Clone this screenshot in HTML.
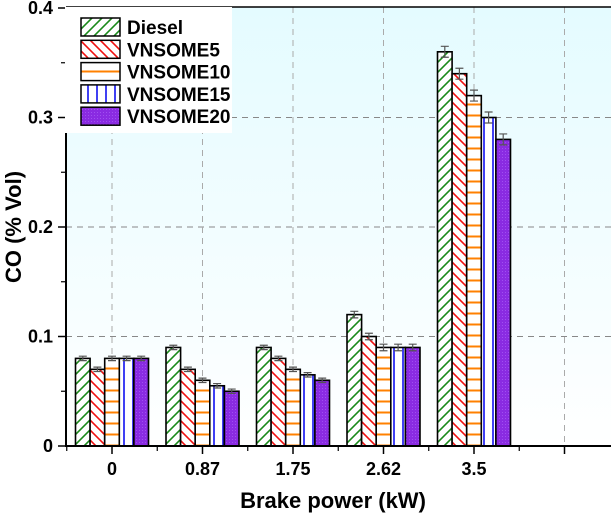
<!DOCTYPE html>
<html><head><meta charset="utf-8"><style>
html,body{margin:0;padding:0;background:#fff;}
svg{display:block;font-family:"Liberation Sans",Arial,sans-serif;}
</style></head><body>
<svg id="chart" width="611" height="516" viewBox="0 0 611 516">
<defs>
<linearGradient id="bg" x1="0" y1="0" x2="0" y2="1">
<stop offset="0" stop-color="#e4fbff"/><stop offset="1" stop-color="#ffffff"/>
</linearGradient>
<pattern id="p0" patternUnits="userSpaceOnUse" width="10" height="10">
<rect width="10" height="10" fill="#fff"/><path d="M-2,12 L12,-2 M-2,2 L2,-2 M8,12 L12,8" stroke="#1a8a1a" stroke-width="1.6"/></pattern>
<pattern id="p1" patternUnits="userSpaceOnUse" width="10" height="10">
<rect width="10" height="10" fill="#fff"/><path d="M-2,-2 L12,12 M-2,8 L2,12 M8,-2 L12,2" stroke="#f01010" stroke-width="1.6"/></pattern>
<pattern id="p2" patternUnits="userSpaceOnUse" width="10" height="11">
<rect width="10" height="11" fill="#fff"/><path d="M0,5.5 L10,5.5" stroke="#ff8000" stroke-width="2"/></pattern>
<pattern id="p3" patternUnits="userSpaceOnUse" width="9" height="10" x="2">
<rect width="9" height="10" fill="#fff"/><path d="M5,0 L5,10" stroke="#1010f0" stroke-width="1.6"/></pattern>
<pattern id="p4" patternUnits="userSpaceOnUse" width="3" height="3">
<rect width="3" height="3" fill="#8a2be2"/><rect x="1" y="1" width="1" height="1" fill="#a050f0"/></pattern>
</defs>
<rect x="66" y="7" width="545" height="439" fill="url(#bg)"/>
<g id="grid"></g>
<g id="bars"></g>
<line x1="66" y1="7" x2="611" y2="7" stroke="#000" stroke-width="1.5"/>
<line x1="66" y1="7" x2="66" y2="447" stroke="#000" stroke-width="2"/>
<line x1="65" y1="446" x2="611" y2="446" stroke="#000" stroke-width="2"/>
<g id="axes"></g>
<text x="333" y="508" font-size="22" font-weight="bold" text-anchor="middle">Brake power (kW)</text>
<text transform="translate(21,227) rotate(-90)" font-size="22" font-weight="bold" text-anchor="middle">CO (% Vol)</text>
<g>
<rect x="65" y="7" width="167" height="126" fill="#fff"/>
<g id="legend"></g>
</g>
</svg>
<script>
const categories = ["0","0.87","1.75","2.62","3.5"];
const seriesNames = ["Diesel","VNSOME5","VNSOME10","VNSOME15","VNSOME20"];
const diesel = [0.08,0.09,0.09,0.12,0.36];
const vnsome5 = [0.07,0.07,0.08,0.10,0.34];
const vnsome10 = [0.08,0.06,0.07,0.09,0.32];
const vnsome15 = [0.08,0.055,0.065,0.09,0.30];
const vnsome20 = [0.08,0.05,0.06,0.09,0.28];
const errors = [0.002,0.002,0.002,0.003,0.005];
const yTicks = [0,0.1,0.2,0.3,0.4];
const yTickLabels = ["0","0.1","0.2","0.3","0.4"];

const NS="http://www.w3.org/2000/svg";
const series=[diesel,vnsome5,vnsome10,vnsome15,vnsome20];
const y0=446, pxPer=1095;
function yS(v){return y0-v*pxPer;}
function xS(i){return 112+i*90.5;}
const bw=14.6;
function mk(tag,attrs,parent){const e=document.createElementNS(NS,tag);for(const k in attrs)e.setAttribute(k,attrs[k]);parent.appendChild(e);return e;}
const grid=document.getElementById('grid'),bars=document.getElementById('bars'),axes=document.getElementById('axes'),legend=document.getElementById('legend');
yTicks.forEach((t,i)=>{
  if(t>0&&t<0.4){const l=mk('line',{x1:66,x2:611,y1:yS(t),y2:yS(t),stroke:'#888','stroke-dasharray':'6,5','stroke-width':1},grid);
  
  }
  const tk=mk('line',{x1:58,x2:66,y1:yS(t),y2:yS(t),stroke:'#000','stroke-width':1.5},axes);
  
  
  const tx=mk('text',{x:53,y:yS(t)+6,'font-size':18,'font-weight':'bold','text-anchor':'end'},axes);
  tx.textContent=yTickLabels[i];
  
  
  if(i<yTicks.length-1){const m=mk('line',{x1:61,x2:66,y1:yS(t+0.05),y2:yS(t+0.05),stroke:'#000','stroke-width':1.2},axes);
  
  }
});
for(let i=0;i<=categories.length;i++){
  const g=mk('line',{x1:xS(i),x2:xS(i),y1:7,y2:446,stroke:'#aaa','stroke-dasharray':'6,5','stroke-width':1},grid);
  
  
  const tk=mk('line',{x1:xS(i),x2:xS(i),y1:446,y2:454,stroke:'#000','stroke-width':1.5},axes);
  
  
  const m=mk('line',{x1:xS(i)-45.25,x2:xS(i)-45.25,y1:446,y2:451,stroke:'#000','stroke-width':1.2},axes);
  
  
  if(i<categories.length){const tx=mk('text',{x:xS(i),y:475,'font-size':18,'font-weight':'bold','text-anchor':'middle'},axes);
  tx.textContent=categories[i];
  
  }
}
categories.forEach((c,i)=>{
  series.forEach((s,j)=>{
    const x=xS(i)-2.5*bw+j*bw, y=yS(s[i]);
    const r=mk('rect',{x:x,y:y,width:bw,height:y0-y,fill:'url(#p'+j+')',stroke:'#000','stroke-width':1.6},bars);
    
    
    const e=errors[i], cx=x+bw/2;
    const eb=mk('path',{d:`M${cx},${yS(s[i]+e)}V${yS(s[i]-e)}M${cx-4},${yS(s[i]+e)}H${cx+4}M${cx-4},${yS(s[i]-e)}H${cx+4}`,stroke:'#555','stroke-width':1.2,fill:'none'},bars);
    
    
  });
});
seriesNames.forEach((n,j)=>{
  const cy=27+j*22.3;
  const r=mk('rect',{x:81,y:cy-9,width:39,height:18,fill:'url(#p'+j+')',stroke:'#000','stroke-width':1.5},legend);
  
  
  const t=mk('text',{x:127,y:cy+7,'font-size':19,'font-weight':'bold'},legend);
  t.textContent=n;
  
  
});
</script>
</body></html>
